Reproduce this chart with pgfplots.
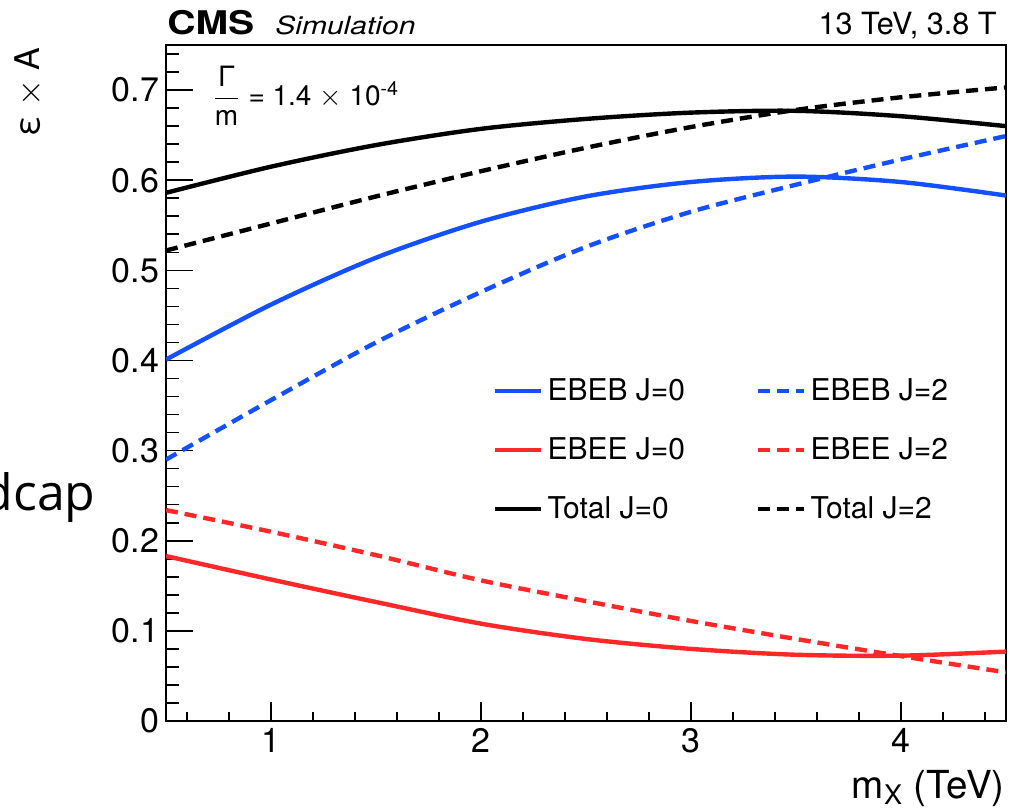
\documentclass[border=0pt]{standalone}
\usepackage{fontspec}
\setmainfont{TeX Gyre Heros}
\newfontfamily\capfont{Open Sans}
\newfontfamily\cmsfont[FakeStretch=1.2]{TeX Gyre Heros}
\usepackage{amsmath}
\usepackage{pgfplots}
\usepackage{pgfplotstable}
\pgfplotsset{compat=1.18}
\definecolor{cmsblue}{RGB}{20,80,255}
\definecolor{cmsred}{RGB}{255,40,40}

\pgfplotstableread{
x   ebeb0 ebeb2 ebee0 ebee2 tot0  tot2
0.5 0.401 0.290 0.183 0.234 0.586 0.522
1.0 0.462 0.356 0.157 0.210 0.615 0.552
1.5 0.514 0.420 0.132 0.184 0.639 0.582
2.0 0.554 0.476 0.108 0.156 0.657 0.610
2.5 0.582 0.526 0.091 0.133 0.668 0.636
3.0 0.598 0.565 0.080 0.111 0.675 0.659
3.5 0.604 0.595 0.0735 0.091 0.677 0.678
4.0 0.598 0.623 0.0725 0.072 0.671 0.692
4.5 0.583 0.649 0.077 0.054 0.660 0.703
}\data

\begin{document}
\begin{tikzpicture}
\begin{axis}[
  at={(0pt,0pt)}, anchor=south west,
  scale only axis, width=420pt, height=338pt,
  xmin=0.5, xmax=4.5, ymin=0, ymax=0.75,
  xtick={1,2,3,4},
  minor xtick={0.6,0.8,1.2,1.4,1.6,1.8,2.2,2.4,2.6,2.8,3.2,3.4,3.6,3.8,4.2,4.4},
  ytick={0,0.1,0.2,0.3,0.4,0.5,0.6,0.7},
  yticklabels={0,0.1,0.2,0.3,0.4,0.5,0.6,0.7},
  minor ytick={0.02,0.04,0.06,0.08,0.12,0.14,0.16,0.18,0.22,0.24,0.26,0.28,0.32,0.34,0.36,0.38,0.42,0.44,0.46,0.48,0.52,0.54,0.56,0.58,0.62,0.64,0.66,0.68,0.72,0.74},
  tick pos=left, tick align=inside,
  major tick length=13.5pt, minor tick length=6.5pt,
  xtick style={/pgfplots/major tick length=9.5pt, /pgfplots/minor tick length=4.75pt},
  axis line style={line width=0.9pt},
  tick style={line width=0.8pt, black},
  ticklabel style={font=\fontsize{17}{20}\selectfont},
  /pgf/number format/assume math mode=true,
  legend columns=2, legend cell align=left,
  legend image code/.code={\draw[#1] (0pt,0pt) -- (23pt,0pt);},
  legend style={draw=none, fill=none, at={(0.389,0.401)}, anchor=west,
    inner sep=0pt, font=\fontsize{15}{17}\selectfont, row sep=17pt,
    nodes={inner sep=0pt},
    /tikz/every odd column/.append style={column sep=2pt},
    /tikz/every even column/.append style={column sep=35.5pt}},
  every axis plot/.append style={line width=2.2pt, smooth},
]
\addplot[cmsblue] table[x=x,y=ebeb0]{\data}; \addlegendentry{EBEB J=0}
\addplot[cmsblue, dash pattern=on 6pt off 3.5pt] table[x=x,y=ebeb2]{\data}; \addlegendentry{EBEB J=2}
\addplot[cmsred] table[x=x,y=ebee0]{\data}; \addlegendentry{EBEE J=0}
\addplot[cmsred, dash pattern=on 6pt off 3.5pt] table[x=x,y=ebee2]{\data}; \addlegendentry{EBEE J=2}
\addplot[black] table[x=x,y=tot0]{\data}; \addlegendentry{Total J=0}
\addplot[black, dash pattern=on 6pt off 3.5pt] table[x=x,y=tot2]{\data}; \addlegendentry{Total J=2}
\node[anchor=west, inner sep=0pt, font=\fontsize{14}{16}\selectfont] at (axis cs:0.72,0.694)
  {$\dfrac{\text{Γ}}{\text{m}}$ = 1.4 $\times$ 10\textsuperscript{-4}};
\end{axis}
\node[anchor=base west, inner sep=0pt, font=\cmsfont\fontsize{16.3}{19}\selectfont\bfseries] at (0.5pt,343pt) {CMS};
\node[anchor=base west, inner sep=0pt, font=\cmsfont\fontsize{12.5}{15}\selectfont\itshape] at (54.5pt,343pt) {Simulation};
\node[anchor=base east, inner sep=0pt, font=\fontsize{15.3}{18}\selectfont] at (415.5pt,343pt) {13 TeV, 3.8 T};
\node[rotate=90, anchor=east, inner sep=0pt, font=\fontsize{17}{20}\selectfont] at (-68.5pt,337pt) {ε $\times$ A};
\node[anchor=base east, inner sep=0pt, font=\fontsize{19.3}{22}\selectfont] at (419.5pt,-38.5pt) {m\textsubscript{X} (TeV)};
\node[anchor=base east, inner sep=0pt, font=\capfont\fontsize{25}{30}\selectfont] at (-35pt,105.5pt) {Endcap};
\pgfresetboundingbox
\path[use as bounding box] (-83pt,-44.5pt) rectangle (429pt,360.5pt);
\end{tikzpicture}
\end{document}
